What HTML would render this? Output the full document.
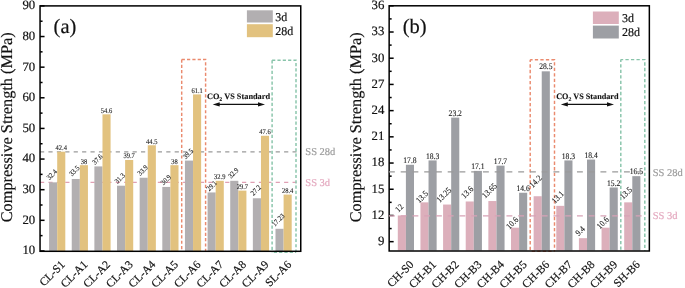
<!DOCTYPE html>
<html><head><meta charset="utf-8"><style>
html,body{margin:0;padding:0;background:#fff;}
body{width:685px;height:288px;overflow:hidden;}
svg{display:block;font-family:"Liberation Serif", serif;text-rendering:geometricPrecision;filter:blur(0.4px);}
</style></head><body>
<svg width="685" height="288" viewBox="0 0 685 288">
<rect width="685" height="288" fill="#fff"/>
<line x1="40.00" y1="151.80" x2="296.50" y2="151.80" stroke="#9a9a9a" stroke-width="1.3" stroke-dasharray="4.2 4.217"/>
<line x1="40.00" y1="182.40" x2="296.50" y2="182.40" stroke="#e0a0b4" stroke-width="1.3" stroke-dasharray="4.2 4.217"/>
<rect x="49.10" y="182.34" width="8.1" height="68.61" fill="#b2afb1"/>
<rect x="57.20" y="151.70" width="8.1" height="99.25" fill="#e2c27f"/>
<rect x="71.74" y="178.97" width="8.1" height="71.98" fill="#b2afb1"/>
<rect x="79.84" y="165.18" width="8.1" height="85.77" fill="#e2c27f"/>
<rect x="94.38" y="166.41" width="8.1" height="84.54" fill="#b2afb1"/>
<rect x="102.48" y="114.33" width="8.1" height="136.62" fill="#e2c27f"/>
<rect x="117.02" y="185.71" width="8.1" height="65.24" fill="#b2afb1"/>
<rect x="125.12" y="159.98" width="8.1" height="90.97" fill="#e2c27f"/>
<rect x="139.66" y="177.74" width="8.1" height="73.21" fill="#b2afb1"/>
<rect x="147.76" y="145.27" width="8.1" height="105.68" fill="#e2c27f"/>
<rect x="162.30" y="186.93" width="8.1" height="64.02" fill="#b2afb1"/>
<rect x="170.40" y="165.18" width="8.1" height="85.77" fill="#e2c27f"/>
<rect x="184.94" y="160.59" width="8.1" height="90.36" fill="#b2afb1"/>
<rect x="193.04" y="94.42" width="8.1" height="156.53" fill="#e2c27f"/>
<rect x="207.58" y="192.44" width="8.1" height="58.51" fill="#b2afb1"/>
<rect x="215.68" y="180.80" width="8.1" height="70.15" fill="#e2c27f"/>
<rect x="230.22" y="180.80" width="8.1" height="70.15" fill="#b2afb1"/>
<rect x="238.32" y="190.61" width="8.1" height="60.34" fill="#e2c27f"/>
<rect x="252.86" y="198.26" width="8.1" height="52.69" fill="#b2afb1"/>
<rect x="260.96" y="135.78" width="8.1" height="115.17" fill="#e2c27f"/>
<rect x="275.50" y="228.80" width="8.1" height="22.15" fill="#b2afb1"/>
<rect x="283.60" y="194.59" width="8.1" height="56.36" fill="#e2c27f"/>
<path d="M181.70 59.45 V251" fill="none" stroke="#ea8a6e" stroke-width="1.45" stroke-dasharray="3.2 2.13" stroke-dashoffset="0"/>
<path d="M181.70 59.45 H205.60 V251" fill="none" stroke="#ea8a6e" stroke-width="1.45" stroke-dasharray="3.2 2.13" stroke-dashoffset="0"/>
<path d="M272.10 252.3 H296.00" fill="none" stroke="#88c4aa" stroke-width="1.45" stroke-dasharray="3.2 2.13" stroke-dashoffset="3.68"/>
<path d="M272.10 60.2 V252.3" fill="none" stroke="#88c4aa" stroke-width="1.45" stroke-dasharray="3.2 2.13" stroke-dashoffset="0"/>
<path d="M272.10 60.2 H296.00 V252.3" fill="none" stroke="#88c4aa" stroke-width="1.45" stroke-dasharray="3.2 2.13" stroke-dashoffset="0"/>
<text class="rot" x="53.55" y="176.30" transform="rotate(-45 53.55 176.30) translate(53.55 176.30) scale(1 1.12) translate(-53.55 -176.30)" text-anchor="middle" font-size="6.5" fill="#1a1a1a" stroke="#1a1a1a" stroke-width="0.1">32.4</text>
<text x="61.25" y="150.20" transform="translate(61.25 150.20) scale(1 1.12) translate(-61.25 -150.20)" text-anchor="middle" font-size="6.5" fill="#1a1a1a" stroke="#1a1a1a" stroke-width="0.1">42.4</text>
<text class="rot" x="76.05" y="172.45" transform="rotate(-45 76.05 172.45) translate(76.05 172.45) scale(1 1.12) translate(-76.05 -172.45)" text-anchor="middle" font-size="6.5" fill="#1a1a1a" stroke="#1a1a1a" stroke-width="0.1">33.5</text>
<text x="83.89" y="163.68" transform="translate(83.89 163.68) scale(1 1.12) translate(-83.89 -163.68)" text-anchor="middle" font-size="6.5" fill="#1a1a1a" stroke="#1a1a1a" stroke-width="0.1">38</text>
<text class="rot" x="99.15" y="160.95" transform="rotate(-45 99.15 160.95) translate(99.15 160.95) scale(1 1.12) translate(-99.15 -160.95)" text-anchor="middle" font-size="6.5" fill="#1a1a1a" stroke="#1a1a1a" stroke-width="0.1">37.6</text>
<text x="106.53" y="112.83" transform="translate(106.53 112.83) scale(1 1.12) translate(-106.53 -112.83)" text-anchor="middle" font-size="6.5" fill="#1a1a1a" stroke="#1a1a1a" stroke-width="0.1">54.6</text>
<text class="rot" x="121.45" y="180.05" transform="rotate(-45 121.45 180.05) translate(121.45 180.05) scale(1 1.12) translate(-121.45 -180.05)" text-anchor="middle" font-size="6.5" fill="#1a1a1a" stroke="#1a1a1a" stroke-width="0.1">31.3</text>
<text x="129.17" y="158.48" transform="translate(129.17 158.48) scale(1 1.12) translate(-129.17 -158.48)" text-anchor="middle" font-size="6.5" fill="#1a1a1a" stroke="#1a1a1a" stroke-width="0.1">39.7</text>
<text class="rot" x="144.40" y="172.05" transform="rotate(-45 144.40 172.05) translate(144.40 172.05) scale(1 1.12) translate(-144.40 -172.05)" text-anchor="middle" font-size="6.5" fill="#1a1a1a" stroke="#1a1a1a" stroke-width="0.1">33.9</text>
<text x="151.81" y="143.77" transform="translate(151.81 143.77) scale(1 1.12) translate(-151.81 -143.77)" text-anchor="middle" font-size="6.5" fill="#1a1a1a" stroke="#1a1a1a" stroke-width="0.1">44.5</text>
<text class="rot" x="167.65" y="181.60" transform="rotate(-45 167.65 181.60) translate(167.65 181.60) scale(1 1.12) translate(-167.65 -181.60)" text-anchor="middle" font-size="6.5" fill="#1a1a1a" stroke="#1a1a1a" stroke-width="0.1">30.9</text>
<text x="174.45" y="163.68" transform="translate(174.45 163.68) scale(1 1.12) translate(-174.45 -163.68)" text-anchor="middle" font-size="6.5" fill="#1a1a1a" stroke="#1a1a1a" stroke-width="0.1">38</text>
<text class="rot" x="189.80" y="155.60" transform="rotate(-45 189.80 155.60) translate(189.80 155.60) scale(1 1.12) translate(-189.80 -155.60)" text-anchor="middle" font-size="6.5" fill="#1a1a1a" stroke="#1a1a1a" stroke-width="0.1">39.5</text>
<text x="197.09" y="92.92" transform="translate(197.09 92.92) scale(1 1.12) translate(-197.09 -92.92)" text-anchor="middle" font-size="6.5" fill="#1a1a1a" stroke="#1a1a1a" stroke-width="0.1">61.1</text>
<text class="rot" x="213.40" y="187.55" transform="rotate(-45 213.40 187.55) translate(213.40 187.55) scale(1 1.12) translate(-213.40 -187.55)" text-anchor="middle" font-size="6.5" fill="#1a1a1a" stroke="#1a1a1a" stroke-width="0.1">29.1</text>
<text x="219.73" y="179.30" transform="translate(219.73 179.30) scale(1 1.12) translate(-219.73 -179.30)" text-anchor="middle" font-size="6.5" fill="#1a1a1a" stroke="#1a1a1a" stroke-width="0.1">32.9</text>
<text class="rot" x="235.00" y="174.75" transform="rotate(-45 235.00 174.75) translate(235.00 174.75) scale(1 1.12) translate(-235.00 -174.75)" text-anchor="middle" font-size="6.5" fill="#1a1a1a" stroke="#1a1a1a" stroke-width="0.1">32.9</text>
<text x="242.37" y="189.11" transform="translate(242.37 189.11) scale(1 1.12) translate(-242.37 -189.11)" text-anchor="middle" font-size="6.5" fill="#1a1a1a" stroke="#1a1a1a" stroke-width="0.1">29.7</text>
<text class="rot" x="257.45" y="191.85" transform="rotate(-45 257.45 191.85) translate(257.45 191.85) scale(1 1.12) translate(-257.45 -191.85)" text-anchor="middle" font-size="6.5" fill="#1a1a1a" stroke="#1a1a1a" stroke-width="0.1">27.2</text>
<text x="265.01" y="134.28" transform="translate(265.01 134.28) scale(1 1.12) translate(-265.01 -134.28)" text-anchor="middle" font-size="6.5" fill="#1a1a1a" stroke="#1a1a1a" stroke-width="0.1">47.6</text>
<text class="rot" x="279.90" y="221.60" transform="rotate(-45 279.90 221.60) translate(279.90 221.60) scale(1 1.12) translate(-279.90 -221.60)" text-anchor="middle" font-size="6.5" fill="#1a1a1a" stroke="#1a1a1a" stroke-width="0.1">17.23</text>
<text x="287.65" y="193.09" transform="translate(287.65 193.09) scale(1 1.12) translate(-287.65 -193.09)" text-anchor="middle" font-size="6.5" fill="#1a1a1a" stroke="#1a1a1a" stroke-width="0.1">28.4</text>
<rect x="40.05" y="5.9" width="260.70" height="245.40" fill="none" stroke="#000" stroke-width="1.5"/>
<line x1="40.05" y1="250.95" x2="44.55" y2="250.95" stroke="#000" stroke-width="1.5"/>
<text x="35.20" y="254.35" text-anchor="end" font-size="12.8" fill="#111" stroke="#111" stroke-width="0.18">10</text>
<line x1="40.05" y1="220.32" x2="44.55" y2="220.32" stroke="#000" stroke-width="1.5"/>
<text x="35.20" y="223.72" text-anchor="end" font-size="12.8" fill="#111" stroke="#111" stroke-width="0.18">20</text>
<line x1="40.05" y1="189.69" x2="44.55" y2="189.69" stroke="#000" stroke-width="1.5"/>
<text x="35.20" y="193.09" text-anchor="end" font-size="12.8" fill="#111" stroke="#111" stroke-width="0.18">30</text>
<line x1="40.05" y1="159.06" x2="44.55" y2="159.06" stroke="#000" stroke-width="1.5"/>
<text x="35.20" y="162.46" text-anchor="end" font-size="12.8" fill="#111" stroke="#111" stroke-width="0.18">40</text>
<line x1="40.05" y1="128.42" x2="44.55" y2="128.42" stroke="#000" stroke-width="1.5"/>
<text x="35.20" y="131.82" text-anchor="end" font-size="12.8" fill="#111" stroke="#111" stroke-width="0.18">50</text>
<line x1="40.05" y1="97.79" x2="44.55" y2="97.79" stroke="#000" stroke-width="1.5"/>
<text x="35.20" y="101.19" text-anchor="end" font-size="12.8" fill="#111" stroke="#111" stroke-width="0.18">60</text>
<line x1="40.05" y1="67.16" x2="44.55" y2="67.16" stroke="#000" stroke-width="1.5"/>
<text x="35.20" y="70.56" text-anchor="end" font-size="12.8" fill="#111" stroke="#111" stroke-width="0.18">70</text>
<line x1="40.05" y1="36.53" x2="44.55" y2="36.53" stroke="#000" stroke-width="1.5"/>
<text x="35.20" y="39.93" text-anchor="end" font-size="12.8" fill="#111" stroke="#111" stroke-width="0.18">80</text>
<line x1="40.05" y1="5.90" x2="44.55" y2="5.90" stroke="#000" stroke-width="1.5"/>
<text x="35.20" y="9.30" text-anchor="end" font-size="12.8" fill="#111" stroke="#111" stroke-width="0.18">90</text>
<line x1="40.05" y1="235.63" x2="42.55" y2="235.63" stroke="#000" stroke-width="1.5"/>
<line x1="40.05" y1="205.00" x2="42.55" y2="205.00" stroke="#000" stroke-width="1.5"/>
<line x1="40.05" y1="174.37" x2="42.55" y2="174.37" stroke="#000" stroke-width="1.5"/>
<line x1="40.05" y1="143.74" x2="42.55" y2="143.74" stroke="#000" stroke-width="1.5"/>
<line x1="40.05" y1="113.11" x2="42.55" y2="113.11" stroke="#000" stroke-width="1.5"/>
<line x1="40.05" y1="82.48" x2="42.55" y2="82.48" stroke="#000" stroke-width="1.5"/>
<line x1="40.05" y1="51.85" x2="42.55" y2="51.85" stroke="#000" stroke-width="1.5"/>
<line x1="40.05" y1="21.22" x2="42.55" y2="21.22" stroke="#000" stroke-width="1.5"/>
<text class="xl" x="65.60" y="265.15" transform="rotate(-45 65.60 265.15)" text-anchor="end" font-size="11.5" fill="#111" stroke="#111" stroke-width="0.18">CL-S1</text>
<text class="xl" x="88.24" y="265.15" transform="rotate(-45 88.24 265.15)" text-anchor="end" font-size="11.5" fill="#111" stroke="#111" stroke-width="0.18">CL-A1</text>
<text class="xl" x="110.88" y="265.15" transform="rotate(-45 110.88 265.15)" text-anchor="end" font-size="11.5" fill="#111" stroke="#111" stroke-width="0.18">CL-A2</text>
<text class="xl" x="133.52" y="265.15" transform="rotate(-45 133.52 265.15)" text-anchor="end" font-size="11.5" fill="#111" stroke="#111" stroke-width="0.18">CL-A3</text>
<text class="xl" x="156.16" y="265.15" transform="rotate(-45 156.16 265.15)" text-anchor="end" font-size="11.5" fill="#111" stroke="#111" stroke-width="0.18">CL-A4</text>
<text class="xl" x="178.80" y="265.15" transform="rotate(-45 178.80 265.15)" text-anchor="end" font-size="11.5" fill="#111" stroke="#111" stroke-width="0.18">CL-A5</text>
<text class="xl" x="201.44" y="265.15" transform="rotate(-45 201.44 265.15)" text-anchor="end" font-size="11.5" fill="#111" stroke="#111" stroke-width="0.18">CL-A6</text>
<text class="xl" x="224.08" y="265.15" transform="rotate(-45 224.08 265.15)" text-anchor="end" font-size="11.5" fill="#111" stroke="#111" stroke-width="0.18">CL-A7</text>
<text class="xl" x="246.72" y="265.15" transform="rotate(-45 246.72 265.15)" text-anchor="end" font-size="11.5" fill="#111" stroke="#111" stroke-width="0.18">CL-A8</text>
<text class="xl" x="269.36" y="265.15" transform="rotate(-45 269.36 265.15)" text-anchor="end" font-size="11.5" fill="#111" stroke="#111" stroke-width="0.18">CL-A9</text>
<text class="xl" x="292.00" y="265.15" transform="rotate(-45 292.00 265.15)" text-anchor="end" font-size="11.5" fill="#111" stroke="#111" stroke-width="0.18">SL-A6</text>
<text x="12.40" y="127.3" transform="rotate(-90 12.40 127.3)" text-anchor="middle" font-size="16.3" fill="#111" stroke="#111" stroke-width="0.18">Compressive Strength (MPa)</text>
<text x="53.60" y="32.8" font-size="20.5" fill="#111" stroke="#111" stroke-width="0.18">(a)</text>
<rect x="246.90" y="10.3" width="25.9" height="12.2" fill="#b2afb1"/>
<text x="275.30" y="20.8" font-size="12" fill="#111" stroke="#111" stroke-width="0.18">3d</text>
<rect x="246.90" y="24.2" width="25.9" height="13.0" fill="#e2c27f"/>
<text x="275.30" y="34.7" font-size="12" fill="#111" stroke="#111" stroke-width="0.18">28d</text>
<text x="305.30" y="154.9" font-size="10.5" fill="#9b9b9b" stroke="#9b9b9b" stroke-width="0.18">SS 28d</text>
<text x="305.30" y="185.8" font-size="10.5" fill="#e4a9bf" stroke="#e4a9bf" stroke-width="0.18">SS 3d</text>
<text x="206.90" y="98.8" font-size="8.3" font-weight="bold" fill="#111" stroke="#111" stroke-width="0.1">CO<tspan font-size="5.81" dy="2">2</tspan><tspan dy="-2"> VS Standard</tspan></text>
<line x1="218.70" y1="104.4" x2="259.00" y2="104.4" stroke="#111" stroke-width="1.2"/>
<path d="M212.70 104.4 L219.70 102.30000000000001 L219.70 106.5 Z" fill="#111"/>
<path d="M265.00 104.4 L258.00 102.30000000000001 L258.00 106.5 Z" fill="#111"/>
<rect x="397.80" y="215.46" width="8.1" height="34.94" fill="#dcafbb"/>
<rect x="405.90" y="164.79" width="8.1" height="85.61" fill="#9d9fa4"/>
<rect x="420.44" y="202.35" width="8.1" height="48.05" fill="#dcafbb"/>
<rect x="428.54" y="160.42" width="8.1" height="89.98" fill="#9d9fa4"/>
<rect x="443.08" y="204.54" width="8.1" height="45.86" fill="#dcafbb"/>
<rect x="451.18" y="117.62" width="8.1" height="132.78" fill="#9d9fa4"/>
<rect x="465.72" y="201.48" width="8.1" height="48.92" fill="#dcafbb"/>
<rect x="473.82" y="170.91" width="8.1" height="79.50" fill="#9d9fa4"/>
<rect x="488.36" y="201.04" width="8.1" height="49.36" fill="#dcafbb"/>
<rect x="496.46" y="165.66" width="8.1" height="84.74" fill="#9d9fa4"/>
<rect x="511.00" y="227.69" width="8.1" height="22.71" fill="#dcafbb"/>
<rect x="519.10" y="192.74" width="8.1" height="57.66" fill="#9d9fa4"/>
<rect x="533.64" y="196.24" width="8.1" height="54.16" fill="#dcafbb"/>
<rect x="541.74" y="71.32" width="8.1" height="179.08" fill="#9d9fa4"/>
<rect x="556.28" y="205.85" width="8.1" height="44.55" fill="#dcafbb"/>
<rect x="564.38" y="160.42" width="8.1" height="89.98" fill="#9d9fa4"/>
<rect x="578.92" y="238.17" width="8.1" height="12.23" fill="#dcafbb"/>
<rect x="587.02" y="159.55" width="8.1" height="90.85" fill="#9d9fa4"/>
<rect x="601.56" y="227.69" width="8.1" height="22.71" fill="#dcafbb"/>
<rect x="609.66" y="187.50" width="8.1" height="62.90" fill="#9d9fa4"/>
<rect x="624.20" y="202.35" width="8.1" height="48.05" fill="#dcafbb"/>
<rect x="632.30" y="176.15" width="8.1" height="74.25" fill="#9d9fa4"/>
<path d="M530.20 251.3 H554.50" fill="none" stroke="#ea8a6e" stroke-width="1.45" stroke-dasharray="3.3 2.225" stroke-dashoffset="4.0"/>
<path d="M530.20 59.7 V251.3" fill="none" stroke="#ea8a6e" stroke-width="1.45" stroke-dasharray="3.3 2.225" stroke-dashoffset="0.9"/>
<path d="M530.20 59.7 H554.50 V251.3" fill="none" stroke="#ea8a6e" stroke-width="1.45" stroke-dasharray="3.3 2.225" stroke-dashoffset="0.9"/>
<path d="M620.80 59.6 V251.0" fill="none" stroke="#88c4aa" stroke-width="1.45" stroke-dasharray="3.3 2.225" stroke-dashoffset="0.9"/>
<path d="M620.80 59.6 H644.80 V251.0" fill="none" stroke="#88c4aa" stroke-width="1.45" stroke-dasharray="3.3 2.225" stroke-dashoffset="0.9"/>
<text class="rot" x="401.34" y="210.09" transform="rotate(-45 401.34 210.09) translate(401.34 210.09) scale(1 1.12) translate(-401.34 -210.09)" text-anchor="middle" font-size="7.7" fill="#1a1a1a" stroke="#1a1a1a" stroke-width="0.1">12</text>
<text x="409.95" y="162.89" transform="translate(409.95 162.89) scale(1 1.12) translate(-409.95 -162.89)" text-anchor="middle" font-size="7.6" fill="#1a1a1a" stroke="#1a1a1a" stroke-width="0.1">17.8</text>
<text class="rot" x="423.94" y="198.84" transform="rotate(-45 423.94 198.84) translate(423.94 198.84) scale(1 1.12) translate(-423.94 -198.84)" text-anchor="middle" font-size="7.7" fill="#1a1a1a" stroke="#1a1a1a" stroke-width="0.1">13.5</text>
<text x="432.59" y="158.52" transform="translate(432.59 158.52) scale(1 1.12) translate(-432.59 -158.52)" text-anchor="middle" font-size="7.6" fill="#1a1a1a" stroke="#1a1a1a" stroke-width="0.1">18.3</text>
<text class="rot" x="445.84" y="196.94" transform="rotate(-45 445.84 196.94) translate(445.84 196.94) scale(1 1.12) translate(-445.84 -196.94)" text-anchor="middle" font-size="7.7" fill="#1a1a1a" stroke="#1a1a1a" stroke-width="0.1">13.25</text>
<text x="455.23" y="115.72" transform="translate(455.23 115.72) scale(1 1.12) translate(-455.23 -115.72)" text-anchor="middle" font-size="7.6" fill="#1a1a1a" stroke="#1a1a1a" stroke-width="0.1">23.2</text>
<text class="rot" x="469.29" y="194.24" transform="rotate(-45 469.29 194.24) translate(469.29 194.24) scale(1 1.12) translate(-469.29 -194.24)" text-anchor="middle" font-size="7.7" fill="#1a1a1a" stroke="#1a1a1a" stroke-width="0.1">13.6</text>
<text x="477.87" y="169.00" transform="translate(477.87 169.00) scale(1 1.12) translate(-477.87 -169.00)" text-anchor="middle" font-size="7.6" fill="#1a1a1a" stroke="#1a1a1a" stroke-width="0.1">17.1</text>
<text class="rot" x="491.29" y="192.59" transform="rotate(-45 491.29 192.59) translate(491.29 192.59) scale(1 1.12) translate(-491.29 -192.59)" text-anchor="middle" font-size="7.7" fill="#1a1a1a" stroke="#1a1a1a" stroke-width="0.1">13.65</text>
<text x="500.51" y="163.76" transform="translate(500.51 163.76) scale(1 1.12) translate(-500.51 -163.76)" text-anchor="middle" font-size="7.6" fill="#1a1a1a" stroke="#1a1a1a" stroke-width="0.1">17.7</text>
<text class="rot" x="514.24" y="224.94" transform="rotate(-45 514.24 224.94) translate(514.24 224.94) scale(1 1.12) translate(-514.24 -224.94)" text-anchor="middle" font-size="7.7" fill="#1a1a1a" stroke="#1a1a1a" stroke-width="0.1">10.6</text>
<text x="523.15" y="190.84" transform="translate(523.15 190.84) scale(1 1.12) translate(-523.15 -190.84)" text-anchor="middle" font-size="7.6" fill="#1a1a1a" stroke="#1a1a1a" stroke-width="0.1">14.6</text>
<text class="rot" x="537.64" y="183.39" transform="rotate(-45 537.64 183.39) translate(537.64 183.39) scale(1 1.12) translate(-537.64 -183.39)" text-anchor="middle" font-size="7.7" fill="#1a1a1a" stroke="#1a1a1a" stroke-width="0.1">14.2</text>
<text x="545.79" y="69.42" transform="translate(545.79 69.42) scale(1 1.12) translate(-545.79 -69.42)" text-anchor="middle" font-size="7.6" fill="#1a1a1a" stroke="#1a1a1a" stroke-width="0.1">28.5</text>
<text class="rot" x="559.84" y="199.14" transform="rotate(-45 559.84 199.14) translate(559.84 199.14) scale(1 1.12) translate(-559.84 -199.14)" text-anchor="middle" font-size="7.7" fill="#1a1a1a" stroke="#1a1a1a" stroke-width="0.1">13.1</text>
<text x="568.43" y="158.52" transform="translate(568.43 158.52) scale(1 1.12) translate(-568.43 -158.52)" text-anchor="middle" font-size="7.6" fill="#1a1a1a" stroke="#1a1a1a" stroke-width="0.1">18.3</text>
<text class="rot" x="582.19" y="232.89" transform="rotate(-45 582.19 232.89) translate(582.19 232.89) scale(1 1.12) translate(-582.19 -232.89)" text-anchor="middle" font-size="7.7" fill="#1a1a1a" stroke="#1a1a1a" stroke-width="0.1">9.4</text>
<text x="591.07" y="157.65" transform="translate(591.07 157.65) scale(1 1.12) translate(-591.07 -157.65)" text-anchor="middle" font-size="7.6" fill="#1a1a1a" stroke="#1a1a1a" stroke-width="0.1">18.4</text>
<text class="rot" x="604.74" y="224.74" transform="rotate(-45 604.74 224.74) translate(604.74 224.74) scale(1 1.12) translate(-604.74 -224.74)" text-anchor="middle" font-size="7.7" fill="#1a1a1a" stroke="#1a1a1a" stroke-width="0.1">10.6</text>
<text x="613.71" y="185.60" transform="translate(613.71 185.60) scale(1 1.12) translate(-613.71 -185.60)" text-anchor="middle" font-size="7.6" fill="#1a1a1a" stroke="#1a1a1a" stroke-width="0.1">15.2</text>
<text class="rot" x="628.09" y="194.94" transform="rotate(-45 628.09 194.94) translate(628.09 194.94) scale(1 1.12) translate(-628.09 -194.94)" text-anchor="middle" font-size="7.7" fill="#1a1a1a" stroke="#1a1a1a" stroke-width="0.1">13.5</text>
<text x="636.35" y="174.25" transform="translate(636.35 174.25) scale(1 1.12) translate(-636.35 -174.25)" text-anchor="middle" font-size="7.6" fill="#1a1a1a" stroke="#1a1a1a" stroke-width="0.1">16.5</text>
<rect x="389.15" y="5.8" width="260.20" height="245.20" fill="none" stroke="#000" stroke-width="1.5"/>
<line x1="389.15" y1="241.66" x2="393.65" y2="241.66" stroke="#000" stroke-width="1.5"/>
<text x="384.30" y="245.06" text-anchor="end" font-size="12.8" fill="#111" stroke="#111" stroke-width="0.18">9</text>
<line x1="389.15" y1="215.46" x2="393.65" y2="215.46" stroke="#000" stroke-width="1.5"/>
<text x="384.30" y="218.86" text-anchor="end" font-size="12.8" fill="#111" stroke="#111" stroke-width="0.18">12</text>
<line x1="389.15" y1="189.25" x2="393.65" y2="189.25" stroke="#000" stroke-width="1.5"/>
<text x="384.30" y="192.65" text-anchor="end" font-size="12.8" fill="#111" stroke="#111" stroke-width="0.18">15</text>
<line x1="389.15" y1="163.04" x2="393.65" y2="163.04" stroke="#000" stroke-width="1.5"/>
<text x="384.30" y="166.44" text-anchor="end" font-size="12.8" fill="#111" stroke="#111" stroke-width="0.18">18</text>
<line x1="389.15" y1="136.84" x2="393.65" y2="136.84" stroke="#000" stroke-width="1.5"/>
<text x="384.30" y="140.24" text-anchor="end" font-size="12.8" fill="#111" stroke="#111" stroke-width="0.18">21</text>
<line x1="389.15" y1="110.63" x2="393.65" y2="110.63" stroke="#000" stroke-width="1.5"/>
<text x="384.30" y="114.03" text-anchor="end" font-size="12.8" fill="#111" stroke="#111" stroke-width="0.18">24</text>
<line x1="389.15" y1="84.42" x2="393.65" y2="84.42" stroke="#000" stroke-width="1.5"/>
<text x="384.30" y="87.82" text-anchor="end" font-size="12.8" fill="#111" stroke="#111" stroke-width="0.18">27</text>
<line x1="389.15" y1="58.21" x2="393.65" y2="58.21" stroke="#000" stroke-width="1.5"/>
<text x="384.30" y="61.61" text-anchor="end" font-size="12.8" fill="#111" stroke="#111" stroke-width="0.18">30</text>
<line x1="389.15" y1="32.01" x2="393.65" y2="32.01" stroke="#000" stroke-width="1.5"/>
<text x="384.30" y="35.41" text-anchor="end" font-size="12.8" fill="#111" stroke="#111" stroke-width="0.18">33</text>
<line x1="389.15" y1="5.80" x2="393.65" y2="5.80" stroke="#000" stroke-width="1.5"/>
<text x="384.30" y="9.20" text-anchor="end" font-size="12.8" fill="#111" stroke="#111" stroke-width="0.18">36</text>
<line x1="389.15" y1="228.56" x2="391.65" y2="228.56" stroke="#000" stroke-width="1.5"/>
<line x1="389.15" y1="202.35" x2="391.65" y2="202.35" stroke="#000" stroke-width="1.5"/>
<line x1="389.15" y1="176.15" x2="391.65" y2="176.15" stroke="#000" stroke-width="1.5"/>
<line x1="389.15" y1="149.94" x2="391.65" y2="149.94" stroke="#000" stroke-width="1.5"/>
<line x1="389.15" y1="123.73" x2="391.65" y2="123.73" stroke="#000" stroke-width="1.5"/>
<line x1="389.15" y1="97.53" x2="391.65" y2="97.53" stroke="#000" stroke-width="1.5"/>
<line x1="389.15" y1="71.32" x2="391.65" y2="71.32" stroke="#000" stroke-width="1.5"/>
<line x1="389.15" y1="45.11" x2="391.65" y2="45.11" stroke="#000" stroke-width="1.5"/>
<line x1="389.15" y1="18.90" x2="391.65" y2="18.90" stroke="#000" stroke-width="1.5"/>
<text class="xl" x="414.30" y="265.15" transform="rotate(-45 414.30 265.15)" text-anchor="end" font-size="11.5" fill="#111" stroke="#111" stroke-width="0.18">CH-S0</text>
<text class="xl" x="436.94" y="265.15" transform="rotate(-45 436.94 265.15)" text-anchor="end" font-size="11.5" fill="#111" stroke="#111" stroke-width="0.18">CH-B1</text>
<text class="xl" x="459.58" y="265.15" transform="rotate(-45 459.58 265.15)" text-anchor="end" font-size="11.5" fill="#111" stroke="#111" stroke-width="0.18">CH-B2</text>
<text class="xl" x="482.22" y="265.15" transform="rotate(-45 482.22 265.15)" text-anchor="end" font-size="11.5" fill="#111" stroke="#111" stroke-width="0.18">CH-B3</text>
<text class="xl" x="504.86" y="265.15" transform="rotate(-45 504.86 265.15)" text-anchor="end" font-size="11.5" fill="#111" stroke="#111" stroke-width="0.18">CH-B4</text>
<text class="xl" x="527.50" y="265.15" transform="rotate(-45 527.50 265.15)" text-anchor="end" font-size="11.5" fill="#111" stroke="#111" stroke-width="0.18">CH-B5</text>
<text class="xl" x="550.14" y="265.15" transform="rotate(-45 550.14 265.15)" text-anchor="end" font-size="11.5" fill="#111" stroke="#111" stroke-width="0.18">CH-B6</text>
<text class="xl" x="572.78" y="265.15" transform="rotate(-45 572.78 265.15)" text-anchor="end" font-size="11.5" fill="#111" stroke="#111" stroke-width="0.18">CH-B7</text>
<text class="xl" x="595.42" y="265.15" transform="rotate(-45 595.42 265.15)" text-anchor="end" font-size="11.5" fill="#111" stroke="#111" stroke-width="0.18">CH-B8</text>
<text class="xl" x="618.06" y="265.15" transform="rotate(-45 618.06 265.15)" text-anchor="end" font-size="11.5" fill="#111" stroke="#111" stroke-width="0.18">CH-B9</text>
<text class="xl" x="640.70" y="265.15" transform="rotate(-45 640.70 265.15)" text-anchor="end" font-size="11.5" fill="#111" stroke="#111" stroke-width="0.18">SH-B6</text>
<text x="361.50" y="127.3" transform="rotate(-90 361.50 127.3)" text-anchor="middle" font-size="16.3" fill="#111" stroke="#111" stroke-width="0.18">Compressive Strength (MPa)</text>
<text x="402.70" y="32.8" font-size="20.5" fill="#111" stroke="#111" stroke-width="0.18">(b)</text>
<rect x="592.90" y="11.5" width="25.9" height="12.5" fill="#dcafbb"/>
<text x="622.00" y="21.9" font-size="12" fill="#111" stroke="#111" stroke-width="0.18">3d</text>
<rect x="592.90" y="25.6" width="25.9" height="12.9" fill="#9d9fa4"/>
<text x="622.00" y="36.0" font-size="12" fill="#111" stroke="#111" stroke-width="0.18">28d</text>
<text x="652.70" y="175.6" font-size="10.5" fill="#9b9b9b" stroke="#9b9b9b" stroke-width="0.18">SS 28d</text>
<text x="652.70" y="219.1" font-size="10.5" fill="#e4a9bf" stroke="#e4a9bf" stroke-width="0.18">SS 3d</text>
<text x="556.20" y="98.8" font-size="8.2" font-weight="bold" fill="#111" stroke="#111" stroke-width="0.1">CO<tspan font-size="5.74" dy="2">2</tspan><tspan dy="-2"> VS Standard</tspan></text>
<line x1="566.80" y1="104.4" x2="608.00" y2="104.4" stroke="#111" stroke-width="1.2"/>
<path d="M560.80 104.4 L567.80 102.30000000000001 L567.80 106.5 Z" fill="#111"/>
<path d="M614.00 104.4 L607.00 102.30000000000001 L607.00 106.5 Z" fill="#111"/>
<line x1="388.95" y1="171.90" x2="645.10" y2="171.90" stroke="#9a9a9a" stroke-width="1.3" stroke-dasharray="5.9 5.85"/>
<line x1="388.95" y1="215.80" x2="645.10" y2="215.80" stroke="#d8a2b6" stroke-width="1.3" stroke-dasharray="5.9 5.85"/>
</svg>
</body></html>
